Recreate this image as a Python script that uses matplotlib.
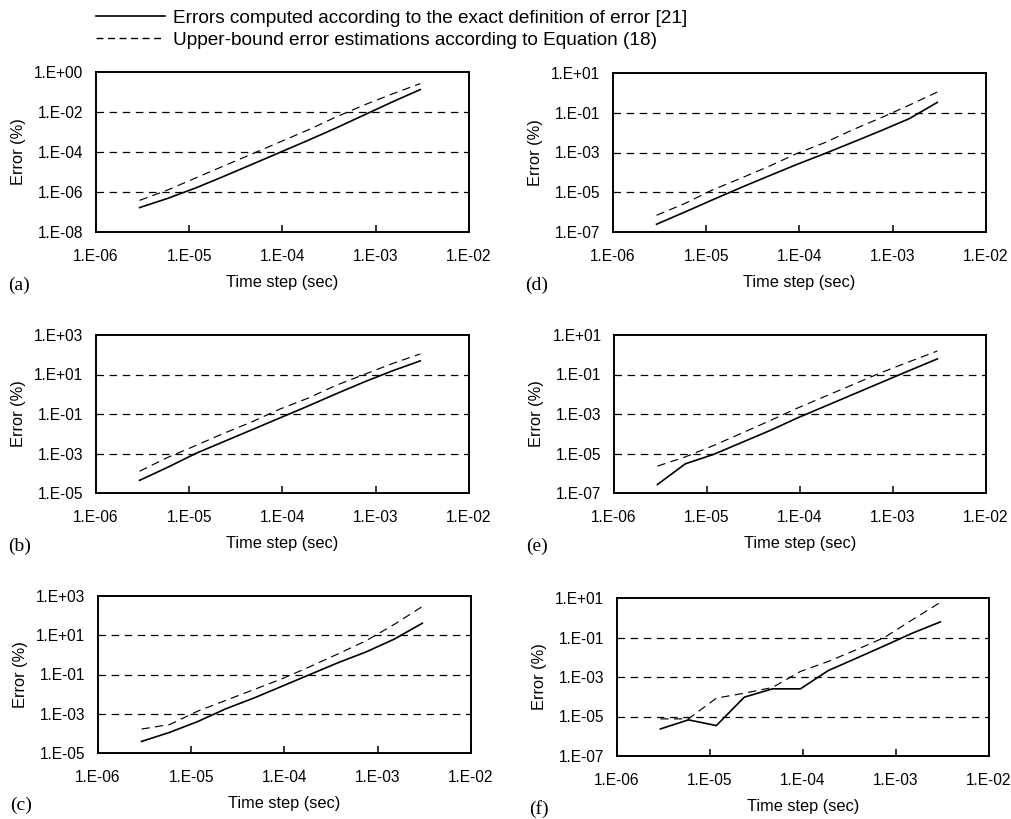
import numpy as np
import matplotlib as mpl
mpl.use('Agg')
import matplotlib.pyplot as plt
from matplotlib.lines import Line2D
from matplotlib.ticker import FixedLocator, FuncFormatter, NullLocator

#Datos
#paso de tiempo (s), mismo para todos los paneles
dt = [2.93e-6, 5.86e-6, 1.17e-5, 2.34e-5, 4.69e-5, 9.38e-5,
      1.875e-4, 3.75e-4, 7.5e-4, 1.5e-3, 3.0e-3]

#log10 del error (%)
a_exact = [-6.78, -6.32, -5.80, -5.22, -4.62, -4.02, -3.42, -2.80, -2.15, -1.50, -0.88]
a_bound = [-6.42, -5.90, -5.30, -4.70, -4.10, -3.50, -2.90, -2.25, -1.65, -1.10, -0.58]

b_exact = [-4.36, -3.70, -3.00, -2.40, -1.80, -1.20, -0.60, 0.02, 0.62, 1.18, 1.69]
b_bound = [-3.90, -3.20, -2.60, -1.98, -1.40, -0.75, -0.20, 0.45, 1.00, 1.55, 2.04]

c_exact = [-4.41, -3.95, -3.40, -2.75, -2.20, -1.60, -1.00, -0.40, 0.15, 0.80, 1.61]
c_bound = [-3.78, -3.55, -2.87, -2.32, -1.77, -1.22, -0.60, 0.05, 0.72, 1.55, 2.46]

d_exact = [-6.61, -6.00, -5.38, -4.77, -4.18, -3.60, -3.05, -2.48, -1.90, -1.30, -0.48]
d_bound = [-6.16, -5.57, -4.88, -4.30, -3.70, -3.05, -2.50, -1.85, -1.25, -0.62, 0.04]

e_exact = [-6.57, -5.52, -5.05, -4.45, -3.85, -3.20, -2.60, -2.00, -1.40, -0.80, -0.21]
e_bound = [-5.64, -5.17, -4.60, -3.98, -3.35, -2.70, -2.10, -1.50, -0.90, -0.35, 0.19]

f_exact = [-5.63, -5.17, -5.46, -4.02, -3.60, -3.60, -2.67, -2.05, -1.42, -0.78, -0.21]
f_bound = [-5.12, -5.12, -4.07, -3.82, -3.53, -2.72, -2.21, -1.62, -1.00, -0.10, 0.78]

#limites eje y (exponentes)
ylims = {'a': (-8, 0), 'b': (-5, 3), 'c': (-5, 3),
         'd': (-7, 1), 'e': (-7, 1), 'f': (-7, 1)}

series = {'a': (a_exact, a_bound), 'b': (b_exact, b_bound), 'c': (c_exact, c_bound),
          'd': (d_exact, d_bound), 'e': (e_exact, e_bound), 'f': (f_exact, f_bound)}

xticks = [1e-6, 1e-5, 1e-4, 1e-3, 1e-2]

leg1 = 'Errors computed according to the exact definition of error [21]'
leg2 = 'Upper-bound error estimations according to Equation (18)'

#--------------------------------
#Posiciones en pixeles (izq, der, arriba, abajo)
W, H = 1012., 819.
cajas = {'a': (96, 469, 72, 232), 'd': (613, 986, 73, 232),
         'b': (96, 469, 335, 493), 'e': (614, 986, 335, 493),
         'c': (98, 471, 596, 753), 'f': (617, 989, 598, 756)}

mpl.rcParams.update({'font.family': ['Liberation Sans', 'DejaVu Sans'],
                     'font.size': 11.2})

def fmt(v, pos):
    e = int(np.round(np.log10(v)))
    return '1.E%+03d' % e

fig = plt.figure(figsize=(W/100., H/100.), dpi=100)

for k in ['a', 'b', 'c', 'd', 'e', 'f']:
    l, r, t, b = cajas[k]
    ax = fig.add_axes([l/W, 1-b/H, (r-l)/W, (b-t)/H])
    ex, ub = series[k]
    ax.plot(dt, 10**np.array(ex), '-', color='black', lw=1.2)
    ax.plot(dt, 10**np.array(ub), color='black', lw=0.85, dashes=(7, 4.5))
    ax.set_xscale('log')
    ax.set_yscale('log')
    ax.set_xlim(1e-6, 1e-2)
    y0, y1 = ylims[k]
    ax.set_ylim(10.**y0, 10.**y1)
    yt = [10.**e for e in range(y0, y1+1, 2)]
    ax.yaxis.set_major_locator(FixedLocator(yt))
    ax.yaxis.set_minor_locator(NullLocator())
    ax.xaxis.set_major_locator(FixedLocator(xticks))
    ax.xaxis.set_minor_locator(NullLocator())
    ax.xaxis.set_major_formatter(FuncFormatter(fmt))
    ax.yaxis.set_major_formatter(FuncFormatter(fmt))
    for e in range(y0+2, y1, 2):
        ax.axhline(10.**e, color='black', lw=0.9, dashes=(6, 4.5), zorder=0)
    ax.tick_params(axis='x', direction='in', length=5, width=1.1, pad=12.5)
    ax.tick_params(axis='y', length=0, pad=9)
    for s in ax.spines.values():
        s.set_linewidth(1.4)
    ax.set_ylabel('Error (%)', labelpad=6, fontsize=11.8)
    ax.set_xlabel('Time step (sec)', labelpad=8, fontsize=11.8)
    ax.text(-0.235, -0.335, '(%s)' % k, transform=ax.transAxes,
            family='Liberation Serif', fontsize=14, va='center', ha='left')

handles = [Line2D([], [], color='black', lw=1.2),
           Line2D([], [], color='black', lw=1.0, dashes=(5, 3.3))]
fig.legend(handles, [leg1, leg2], loc='upper left', frameon=False,
           bbox_to_anchor=(85/W, 1+2/H), fontsize=13.7, handlelength=3.6,
           handletextpad=0.45, labelspacing=0.25, borderpad=0.1)

plt.savefig('out.png', dpi=100)
